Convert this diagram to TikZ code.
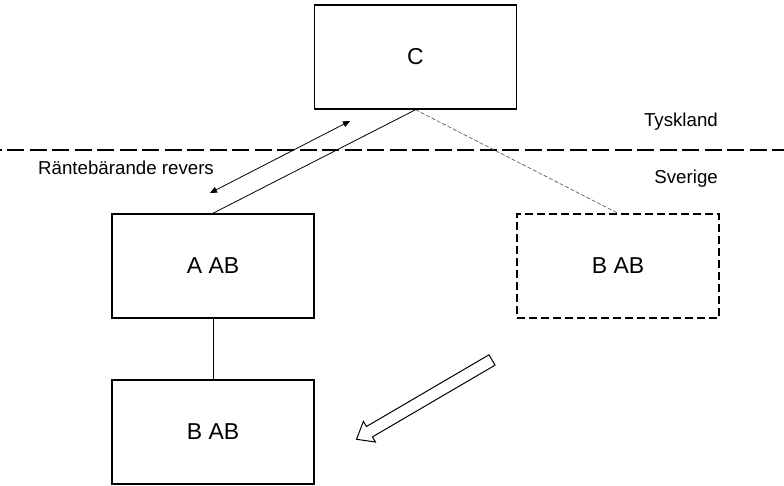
\documentclass[tikz,border=0pt]{standalone}
\usepackage{fontspec}
\setmainfont{Liberation Sans}
\usetikzlibrary{arrows.meta}

\tikzset{
	bolag/.style={draw, line width=1.5pt, minimum width=202pt, minimum height=104pt, font=\fontsize{23}{27}\selectfont},
	etikett/.style={font=\fontsize{18.7}{22}\selectfont, inner sep=0pt},
}

\begin{document}
\begin{tikzpicture}[x=1pt,y=1pt]
		\useasboundingbox (0,0) rectangle (784,485);
		
		% gransen
		\draw[line width=1.3pt, dash pattern=on 17pt off 5.5pt, dash phase=-7pt] (0,335) -- (784,335);
		\node[etikett, anchor=base east] (tyskland) at (718,358) {Tyskland};
		\node[etikett, anchor=base east] (sverige) at (718,301) {Sverige};
		
		\node[bolag] (c) at (415.5,428) {C};
		\node[bolag] (aab) at (213,219) {A AB};
		\node[bolag, dashed, dash pattern=on 8pt off 4pt] (bab2) at (618,219) {B AB};
		\node[bolag] (bab) at (213,53) {B AB};
		
		\draw[line width=0.8pt] (aab.north) -- (c.south);
		\draw[line width=0.6pt, black!70, dash pattern=on 4pt off 2pt] (c.south) -- (bab2.north);
		\draw[line width=0.8pt] (aab.south) -- (bab.north);
		
		% revers
		\coordinate (r1) at (210,292);
		\coordinate (r2) at (350,364);
		\draw[line width=0.8pt, {Triangle[length=7pt,width=6pt]}-{Triangle[length=7pt,width=6pt]}] (r1) -- (r2);
		\node[etikett, anchor=base west] (revers) at (38,310) {Räntebärande revers};
		
		% ihalig pil
		\draw[line width=1pt, shift={(492,125)}, rotate=210.33]
			(0,6) -- (142,6) -- (142,12) -- (157,0) -- (142,-12) -- (142,-6) -- (0,-6) -- cycle;
	\end{tikzpicture}
\end{document}
